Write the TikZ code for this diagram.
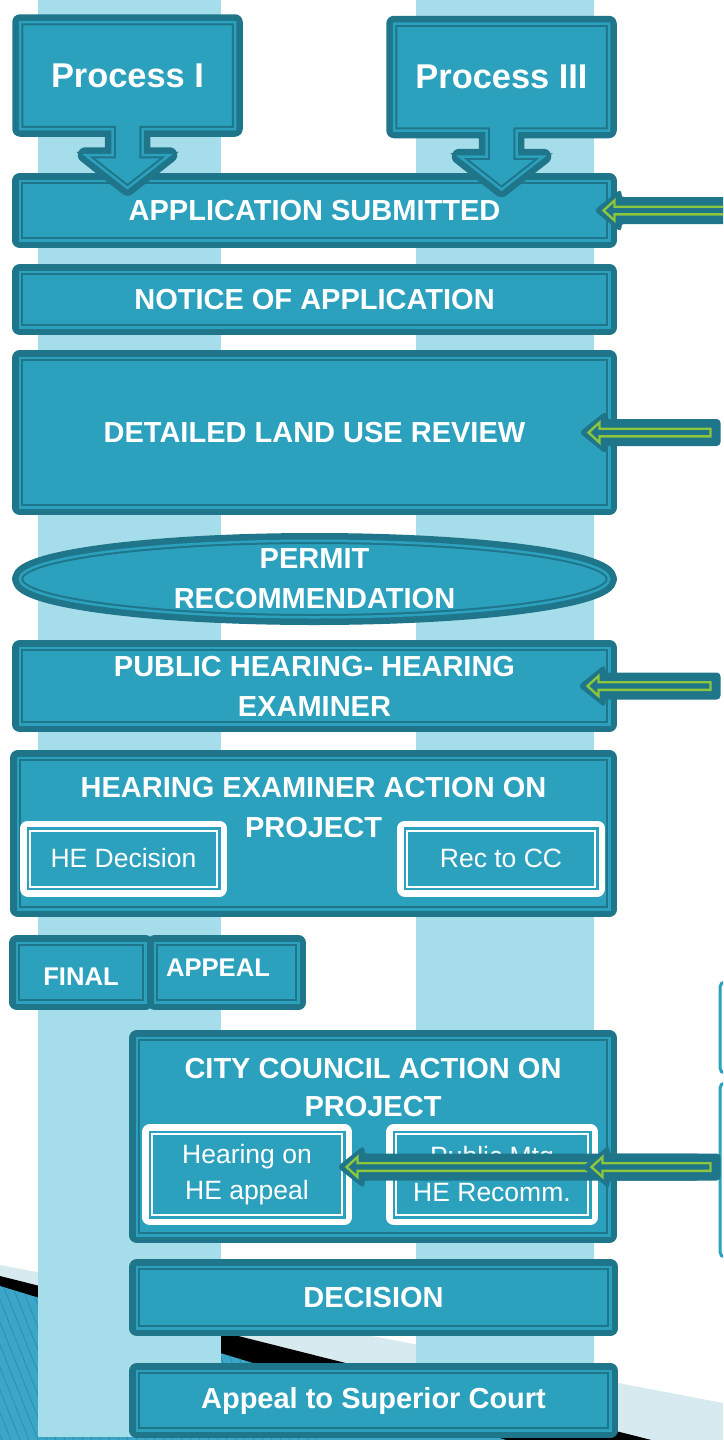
\documentclass[tikz,border=0pt]{standalone}
\usepackage{fontspec}
\setmainfont{Liberation Sans}
\usetikzlibrary{shapes.geometric,positioning}

\definecolor{tealdk}{HTML}{1F7589}
\definecolor{tealmd}{HTML}{2CA1BE}
\definecolor{colblue}{HTML}{A6DDEA}
\definecolor{arrgreen}{HTML}{8CC63F}
\definecolor{bandblue}{HTML}{D6EAF0}
\definecolor{stripeblue}{HTML}{3BA6C7}
\definecolor{stripedk}{HTML}{2C8FB2}

\tikzset{
  framed/.style 2 args={fill=#2, draw=#1, line width=6.5pt, sharp corners,
    preaction={draw=#1, line width=15.5pt, line join=round},
    postaction={draw=#2, line width=2.5pt}},
  box/.style={framed={tealdk}{tealmd}, shape=rectangle, inner sep=0pt, text=white,
    align=center, font=\fontsize{29}{40}\selectfont\bfseries},
  wbox/.style={framed={white}{tealmd}, shape=rectangle, inner sep=0pt, text=white,
    align=center, font=\fontsize{26.5}{36}\selectfont},
  title/.style={inner sep=0pt, text=white, align=center,
    font=\fontsize{29}{40}\selectfont\bfseries},
  pics/callout/.style={code={
    \path[framed={tealdk}{tealmd}] (-107.5,-53.5) -- (107.5,-53.5) -- (107.5,53.5)
      -- (15,53.5) -- (15,79.5) -- (42,79.5) -- (0,112.5) -- (-42,79.5)
      -- (-15,79.5) -- (-15,53.5) -- (-107.5,53.5) -- cycle;
  }},
  pics/inarrow/.style={code={
    \path[fill=tealdk, draw=tealdk, line width=2pt, rounded corners=3pt]
      (0,0) -- (25,-20) -- (25,-12.5) -- (#1,-12.5) -- (#1,12.5) -- (25,12.5) -- (25,20) -- cycle;
    \draw[arrgreen, line width=2.4pt, fill=tealdk]
      (8,0) -- (19,-10) -- (19,-3.8) -- (#1-9,-3.8) -- (#1-9,3.8) -- (19,3.8) -- (19,10) -- cycle;
  }}
}

\begin{document}
\begin{tikzpicture}[x=1pt, y=-1pt]
\useasboundingbox (0,0) rectangle (723,1440);
\clip (0,0) rectangle (723,1440);

% background bands
\fill[bandblue] (0,1265) -- (723,1403) -- (723,1440) -- (0,1440) -- cycle;
\fill[black] (0,1276) -- (723,1458) -- (723,1520) -- (0,1520) -- cycle;
\fill[stripeblue] (0,1286) -- (723,1506) -- (0,1506) -- cycle;
\begin{scope}
  \clip (0,1286) -- (723,1506) -- (0,1506) -- cycle;
  \foreach \s in {-80,-71,...,260}
    \draw[stripedk, line width=0.8pt] (\s,1280) -- ++(80,200);
\end{scope}
\fill[colblue] (38,0) rectangle (221,1437);
\fill[colblue] (416,0) rectangle (594,1437);
\draw[tealmd, line width=3pt, rounded corners=5pt] (720,982) rectangle (780,1073);
\draw[tealmd, line width=3pt, rounded corners=5pt] (720,1083) rectangle (780,1257);

% main steps
\node[box, minimum width=589.5pt, minimum height=59.5pt] (submit) at (314.5,210.5) {APPLICATION SUBMITTED};
\node[box, minimum width=589.5pt, minimum height=55.5pt] (notice) at (314.5,299.5) {NOTICE OF APPLICATION};
\node[box, minimum width=589.5pt, minimum height=149.5pt] (review) at (314.5,432.5) {DETAILED LAND USE REVIEW};
\node[box, ellipse, minimum width=589.5pt, minimum height=76.5pt] (permit) at (314.5,579) {};
\node[title] (permittxt) at (permit) {PERMIT\\RECOMMENDATION};
\node[box, minimum width=589.5pt, minimum height=76.5pt] (hearing) at (314.5,686) {PUBLIC HEARING- HEARING\\EXAMINER};

\node[box, minimum width=591.5pt, minimum height=151.5pt] (heaction) at (313.5,833.5) {};
\node[title, below=23pt of heaction.north] (heactiontxt) {HEARING EXAMINER ACTION ON\\PROJECT};
\node[wbox, minimum width=191.5pt, minimum height=60.5pt] (hedec) at (123.5,858.5) {HE Decision};
\node[wbox, minimum width=192.5pt, minimum height=60.5pt] (rectocc) at (501,858.5) {Rec to CC};

\node[box, minimum width=143.5pt, minimum height=59.5pt] (appeal) at (226.5,972.5) {};
\node[box, minimum width=128.5pt, minimum height=59.5pt] (final) at (81,972.5) {};
\node[title, font=\fontsize{25.6}{30}\selectfont\bfseries] (finaltxt) at (81,977) {FINAL};
\node[title, font=\fontsize{25.6}{30}\selectfont\bfseries] (appealtxt) at (218,968) {APPEAL};

\node[box, minimum width=472.5pt, minimum height=197.5pt] (council) at (373,1136.5) {};
\node[title, font=\fontsize{29}{38}\selectfont\bfseries, below=24pt of council.north] (counciltxt) {CITY COUNCIL ACTION ON\\PROJECT};
\node[wbox, minimum width=194.5pt, minimum height=85.5pt] (heappeal) at (247,1174.5) {Hearing on\\HE appeal};
\node[wbox, minimum width=196.5pt, minimum height=85.5pt] (pubmtg) at (492,1174.5) {Public Mtg\\HE Recomm.};

\node[box, minimum width=473.5pt, minimum height=61.5pt] (decision) at (373.5,1297.5) {DECISION};
\node[box, minimum width=473.5pt, minimum height=59.5pt] (superior) at (373.5,1400.5) {Appeal to Superior Court};

% the two process callouts
\foreach \cx/\cy/\nm/\lab in {127.5/75.5/proc1/Process I, 501.5/77/proc3/Process III}
{
  \pic at (\cx,\cy) {callout};
  \node[title, font=\fontsize{34.4}{40}\selectfont\bfseries] (\nm) at (\cx,\cy) {\lab};
}

% incoming arrows
\pic at ([xshift=-17pt]submit.east) {inarrow=150};
\pic at ([xshift=-32pt]review.east) {inarrow=139};
\pic at ([xshift=-33pt]hearing.east) {inarrow=140};
\pic at ([xshift=-9pt,yshift=7.5pt]heappeal.east) {inarrow=361};
\pic at ([xshift=-10pt,yshift=7.5pt]pubmtg.east) {inarrow=136};
\end{tikzpicture}
\end{document}
